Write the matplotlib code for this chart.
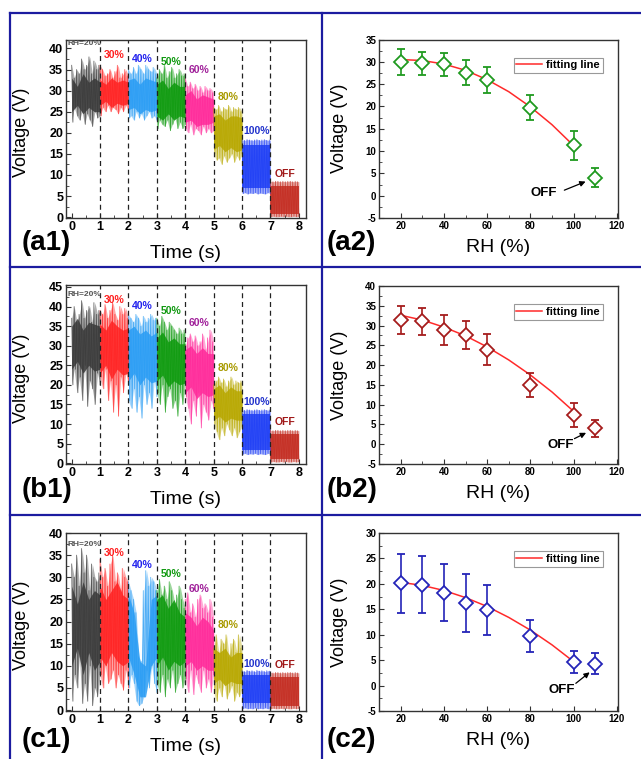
import numpy as np
import matplotlib
matplotlib.use('Agg')
import matplotlib.pyplot as plt
from matplotlib.lines import Line2D
from matplotlib.ticker import MultipleLocator

plt.rcParams['font.family'] = ['Liberation Sans', 'DejaVu Sans']
plt.rcParams['axes.unicode_minus'] = False

# ======================================================================================================================
#    Data
# ======================================================================================================================
SEG_LABELS = ['RH=20%', '30%', '40%', '50%', '60%', '80%', '100%', 'OFF']
SEG_COLORS = ['#3a3a3a', '#ff2222', '#2a9df4', '#0e9a0e', '#ff2a9a', '#b8a800', '#1f3ff5', '#c42d22']
LABEL_COLORS = ['#555555', '#ff2020', '#2222ee', '#119911', '#a0209a', '#a89a00', '#2233cc', '#a01818']

# (a1) outer spikes per segment
A1_HI = [[36, 33, 35, 34, 37.5, 35, 36, 38, 34, 37, 35, 36],
         [36, 35, 33.5, 34, 35, 33, 34.5, 36, 33, 34, 35, 33.5],
         [35, 34, 35.5, 34, 36, 35, 34, 36, 35, 34.5, 35.5, 34],
         [33, 35, 34, 36, 33, 34.5, 35.5, 33, 34, 35, 33.5, 34],
         [33, 31, 32, 30.5, 31.5, 30, 31, 29.5, 31, 30, 30.5, 29.5],
         [26, 25.5, 26.5, 25, 26, 25.5, 26.5, 25, 26, 25.5, 26, 25],
         [18.3, 18.2, 18.4, 18.3, 18.2, 18.3, 18.4, 18.2, 18.3, 18.4, 18.2, 18.3],
         [8.5, 8.4, 8.5, 8.5, 8.4, 8.5, 8.4, 8.5, 8.5, 8.4, 8.5, 8.4]]
A1_LO = [[22.5, 26, 24, 23, 25, 22, 24.5, 23, 21.5, 25, 23.5, 24],
         [24, 26, 25, 26.5, 25, 26, 25.5, 24.5, 26, 25, 26.5, 25],
         [23.5, 24, 23, 25, 23.5, 24.5, 23, 24, 25, 23.5, 24, 23],
         [21, 23, 22, 21.5, 23, 20.5, 22, 23.5, 21, 22.5, 21, 22],
         [21, 20, 22, 19.5, 21, 20.5, 19.5, 21.5, 20, 21, 20, 20.5],
         [15, 13.5, 14, 12.5, 14.5, 13, 14, 15, 13, 14.5, 13.5, 15],
         [5.6, 5.8, 5.5, 5.7, 5.6, 5.8, 5.5, 5.7, 5.6, 5.5, 5.8, 5.6],
         [0.1, 0.2, 0.1, 0.1, 0.2, 0.1, 0.2, 0.1, 0.1, 0.2, 0.1, 0.2]]
A1_CORE_HI = [[33, 31, 34, 32, 33, 32], [32.5, 31.5, 33, 32, 32.5, 32], [32.5, 33, 31.5, 33, 32.5, 32],
              [31.5, 32.5, 30.5, 32, 31, 31], [29, 30, 28, 29, 28.5, 28], [24, 24.5, 23, 24, 24, 23.5],
              [17, 17, 17, 17, 17, 17], [7.5, 7.5, 7.5, 7.5, 7.5, 7.5]]
A1_CORE_LO = [[25, 26.5, 24.5, 26, 25, 25], [26.5, 27.5, 26, 27, 26.5, 27], [25.5, 26, 24.5, 25.5, 25, 25.5],
              [24, 23, 24.5, 23, 24, 23.5], [22.5, 23, 21.5, 22, 22, 22.5], [16, 17, 15.5, 16.5, 15.5, 16],
              [7, 7, 7, 7, 7, 7], [0.8, 0.8, 0.8, 0.8, 0.8, 0.8]]

# (b1)
B1_HI = [[37, 40, 36, 38, 41.5, 37, 39, 40, 36, 41, 38, 39],
         [39, 38, 40.5, 37, 39, 41, 38, 36.5, 40, 38, 39.5, 37],
         [38, 37, 36, 38, 37, 35, 37.5, 36, 37, 38, 36.5, 37],
         [37, 35, 37.5, 36, 34, 36, 35, 34, 33, 34.5, 33, 34],
         [30, 32, 33, 31, 32.5, 30, 31, 33, 29, 32, 34, 31],
         [20, 21, 22, 20.5, 21.5, 19.5, 21, 22, 20, 21, 20.5, 21],
         [13.6, 13.5, 13.7, 13.6, 13.5, 13.6, 13.7, 13.5, 13.6, 13.7, 13.5, 13.6],
         [8.4, 8.3, 8.4, 8.4, 8.3, 8.4, 8.3, 8.4, 8.4, 8.3, 8.4, 8.3]]
B1_LO = [[20, 24, 18, 22, 16, 25, 14.5, 21, 19, 15, 23, 20],
         [22, 19, 24, 16, 21, 13, 20, 12, 22, 18, 23, 20],
         [16, 14, 19, 13, 17, 11.5, 20, 15, 18, 14, 21, 17],
         [18, 15, 20, 13, 17, 19, 14, 16, 12, 18, 15, 20],
         [17, 14, 10, 16, 12, 18, 9, 15, 13, 11, 16, 14],
         [10, 8, 6, 9, 7, 10, 8.5, 7, 9, 6.5, 8, 10],
         [2.3, 2.5, 2.2, 2.4, 2.3, 2.5, 2.2, 2.4, 2.3, 2.2, 2.5, 2.3],
         [0.3, 0.4, 0.3, 0.3, 0.4, 0.3, 0.4, 0.3, 0.3, 0.4, 0.3, 0.4]]
B1_CORE_HI = [[35, 37, 34, 36, 35.5, 35], [35.5, 34, 36.5, 35, 34, 34.5], [34, 35, 33, 34, 32.5, 33.5],
              [32, 33.5, 31, 32, 30.5, 30.5], [29, 30, 28, 29.5, 28, 28], [19, 20, 18, 19.5, 18.5, 18.5],
              [12.5, 12.5, 12.5, 12.5, 12.5, 12.5], [7.5, 7.5, 7.5, 7.5, 7.5, 7.5]]
B1_CORE_LO = [[24, 26, 23, 25, 23.5, 24], [23, 25, 21.5, 24, 22.5, 23], [21, 23, 20, 22, 20.5, 21],
              [21, 22.5, 19.5, 21, 20, 20.5], [18, 19.5, 16.5, 18, 17, 17.5], [11, 12, 10.5, 11.5, 11, 11],
              [3.5, 3.5, 3.5, 3.5, 3.5, 3.5], [1, 1, 1, 1, 1, 1]]

# (c1)
C1_HI = [[33, 30, 35, 28, 36.5, 31, 35, 27, 33, 30, 29, 31],
         [34, 30, 32, 28, 33, 35, 29, 31, 27, 32, 30, 29],
         [29, 27, 25, 22, 12, 11, 27, 31.5, 28, 30, 29, 27],
         [27, 29.5, 26, 28, 25, 29, 27, 24, 26, 28, 25, 23],
         [25, 26.5, 22, 24, 21, 25, 26, 23, 24, 22, 25, 21],
         [14, 17, 13, 16, 15, 17, 12, 15, 16, 13, 17, 14],
         [8.9, 8.7, 9.0, 8.8, 8.9, 8.7, 9.0, 8.8, 8.9, 8.7, 8.9, 8.8],
         [8.5, 8.4, 8.5, 8.5, 8.4, 8.5, 8.4, 8.5, 8.5, 8.4, 8.5, 8.4]]
C1_LO = [[2, 8, 5, 12, 1.5, 6, 2, 10, 1, 5, 3, 8],
         [8, 5, 10, 6, 7, 9, 5, 8, 6, 4.5, 9, 5],
         [5, 8, 6, 2, 1, 1.5, 3, 9, 5, 10, 6, 4],
         [6, 4, 8, 3, 7, 5, 9, 4, 6, 8, 5, 7],
         [7, 4, 9, 3.5, 8, 6, 4, 9, 5, 7, 4, 8],
         [4, 2, 5, 3, 6, 2.5, 4, 5.5, 2, 4, 3, 5],
         [0.3, 0.5, 0.3, 0.4, 0.3, 0.5, 0.3, 0.4, 0.3, 0.5, 0.3, 0.4],
         [0.3, 0.4, 0.3, 0.3, 0.4, 0.3, 0.4, 0.3, 0.3, 0.4, 0.3, 0.4]]
C1_CORE_HI = [[28, 24, 29, 25, 27, 26], [28, 25, 27, 29, 26, 25], [26, 22, 11, 10, 25, 26],
              [25, 26, 23, 25, 22, 21], [22, 21, 19, 21, 20, 18], [14, 13, 14, 12, 13, 13],
              [8, 8, 8, 8, 8, 8], [7.5, 7.5, 7.5, 7.5, 7.5, 7.5]]
C1_CORE_LO = [[10, 14, 8, 13, 9, 11], [12, 10, 13, 11, 10, 11], [12, 8, 3, 3, 10, 12],
              [10, 12, 9, 11, 10, 11], [10, 11, 9, 10, 9, 9], [6, 7, 5.5, 6.5, 6, 6],
              [1.5, 1.5, 1.5, 1.5, 1.5, 1.5], [1, 1, 1, 1, 1, 1]]

# label positions (y) over each segment
A1_LABEL_Y = [41.2, 38.4, 37.4, 36.8, 34.9, 28.4, 20.5, 10.3]
B1_LABEL_Y = [43.1, 41.6, 40.2, 38.75, 35.7, 24.4, 15.75, 10.4]
C1_LABEL_Y = [37.5, 35.5, 32.8, 30.7, 27.3, 19.2, 10.4, 10.2]

# (x2) panels: mean voltage vs RH
RH = [20, 30, 40, 50, 60, 80, 100, 110]
A2_V = [29.9, 29.7, 29.4, 27.6, 25.9, 19.7, 11.3, 4.0]
A2_ERR = [2.95, 2.6, 2.55, 2.8, 2.9, 2.85, 3.3, 2.15]
B2_V = [31.4, 31.1, 28.9, 27.5, 23.9, 15.0, 7.4, 4.0]
B2_ERR = [3.55, 3.4, 3.7, 3.55, 3.9, 3.0, 3.0, 2.1]
C2_V = [20.15, 19.8, 18.3, 16.3, 14.9, 9.7, 4.6, 4.3]
C2_ERR = [5.8, 5.6, 5.6, 5.7, 4.9, 3.15, 2.15, 2.1]

FIT_RH = [20, 30, 40, 50, 60, 70, 80, 90, 100]
A2_FIT = [30.5, 30.3, 29.5, 28.1, 26.0, 23.3, 19.9, 15.9, 11.2]
B2_FIT = [32.6, 31.4, 29.6, 27.4, 24.6, 21.3, 17.5, 13.2, 8.3]
C2_FIT = [20.3, 19.7, 18.7, 17.3, 15.55, 13.4, 10.9, 8.0, 4.7]


# ======================================================================================================================
#    Helpers
# ======================================================================================================================
W, H = 641, 759


def px_axes(fig, left, top, right, bottom):
    return fig.add_axes([left / W, 1 - bottom / H, (right - left) / W, (bottom - top) / H])


def style_axes(ax, size):
    for s in ax.spines.values():
        s.set_color('#333333')
        s.set_linewidth(1.0)
    ax.tick_params(which='both', direction='in', top=False, right=False, labelsize=size, pad=2,
                   color='#333333')
    ax.tick_params(which='major', length=3.5)
    ax.tick_params(which='minor', length=2)
    for lab in ax.get_xticklabels() + ax.get_yticklabels():
        lab.set_fontweight('bold')


def time_panel(ax, hi, lo, core_hi, core_lo, label_y, ymax, ystep):
    for i in range(8):
        n = len(hi[i])
        # dense zig-zag of the spikes
        xs = np.linspace(i, i + 1, 2 * n)
        ys = np.empty(2 * n)
        ys[0::2] = hi[i]
        ys[1::2] = lo[i]
        xe = np.linspace(i, i + 1, n)
        ax.fill_between(xe, lo[i], hi[i], color=SEG_COLORS[i], alpha=0.4, lw=0)
        ax.plot(xs, ys, color=SEG_COLORS[i], lw=0.6, alpha=0.75)
        xc = np.linspace(i, i + 1, len(core_hi[i]))
        ax.fill_between(xc, core_lo[i], core_hi[i], color=SEG_COLORS[i], alpha=0.85, lw=0)
        ax.text(i + 0.5 if i else 0.44, label_y[i], SEG_LABELS[i], color=LABEL_COLORS[i],
                fontsize=6 if i == 0 else 7.5, fontweight='bold', ha='center', va='center')
    for xv in range(1, 8):
        ax.axvline(xv, color='#222222', lw=0.9, ls=(0, (4, 3)))
    ax.set_xlim(-0.2, 8.25)
    ax.set_ylim(-0.2, ymax)
    ax.xaxis.set_major_locator(MultipleLocator(1))
    ax.xaxis.set_minor_locator(MultipleLocator(0.5))
    ax.yaxis.set_major_locator(MultipleLocator(ystep))
    ax.yaxis.set_minor_locator(MultipleLocator(ystep / 2))
    style_axes(ax, 9)
    ax.set_xlabel('Time (s)', fontsize=14)
    ax.set_ylabel('Voltage (V)', fontsize=13)
    ax.xaxis.set_label_coords(0.5, -0.15)
    ax.yaxis.set_label_coords(-0.15, 0.48)


def rh_panel(ax, v, err, fit, color, ylim, off_text, off_tail, off_head):
    ax.plot(FIT_RH, fit, color='#ff2a2a', lw=1.1, label='fitting line', zorder=2)
    ax.errorbar(RH, v, yerr=err, fmt='D', mfc='white', mec=color, ecolor=color, ms=7.5, mew=1.3,
                elinewidth=1.2, capsize=3, capthick=1.2, zorder=3)
    ax.annotate('', xy=off_head, xytext=off_tail,
                arrowprops=dict(arrowstyle='-|>', color='black', lw=0.9, mutation_scale=8))
    ax.text(off_text[0], off_text[1], 'OFF', fontsize=9.5, fontweight='bold', ha='center', va='center')
    ax.set_xlim(10, 120.5)
    ax.set_ylim(*ylim)
    ax.xaxis.set_major_locator(MultipleLocator(20))
    ax.xaxis.set_minor_locator(MultipleLocator(10))
    ax.yaxis.set_major_locator(MultipleLocator(5))
    ax.yaxis.set_minor_locator(MultipleLocator(2.5))
    style_axes(ax, 7)
    leg = ax.legend(loc='upper right', bbox_to_anchor=(0.96, 0.93), fancybox=False, framealpha=1,
                    edgecolor='#999999', handlelength=2.3, borderpad=0.25, handletextpad=0.4,
                    prop=dict(size=8, weight='bold'))
    leg.get_frame().set_linewidth(0.8)
    ax.set_xlabel('RH (%)', fontsize=14)
    ax.set_ylabel('Voltage (V)', fontsize=13)
    ax.xaxis.set_label_coords(0.5, -0.12)
    ax.yaxis.set_label_coords(-0.13, 0.5)


# ======================================================================================================================
#    Figure
# ======================================================================================================================
fig = plt.figure(figsize=(W / 100, H / 100), dpi=100)

ax_a1 = px_axes(fig, 66, 40, 306, 218)
ax_a2 = px_axes(fig, 379, 39.5, 618, 218)
ax_b1 = px_axes(fig, 66, 285, 306, 464)
ax_b2 = px_axes(fig, 379, 286, 618, 464)
ax_c1 = px_axes(fig, 66, 533, 306, 711)
ax_c2 = px_axes(fig, 379, 533, 618, 711)

time_panel(ax_a1, A1_HI, A1_LO, A1_CORE_HI, A1_CORE_LO, A1_LABEL_Y, 42, 5)
time_panel(ax_b1, B1_HI, B1_LO, B1_CORE_HI, B1_CORE_LO, B1_LABEL_Y, 45.5, 5)
time_panel(ax_c1, C1_HI, C1_LO, C1_CORE_HI, C1_CORE_LO, C1_LABEL_Y, 40, 5)

rh_panel(ax_a2, A2_V, A2_ERR, A2_FIT, '#1f9a1f', (-5, 35), (86, 0.6), (94.5, 1.0), (106.7, 3.4))
rh_panel(ax_b2, B2_V, B2_ERR, B2_FIT, '#a51c1c', (-5, 40), (93.8, -0.2), (99.2, 1.1), (106.9, 3.2))
rh_panel(ax_c2, C2_V, C2_ERR, C2_FIT, '#2424b8', (-5, 30), (94.5, -0.9), (100, 0.1), (108.4, 2.95))

# panel tags
for txt, xp, yp in [('(a1)', 22, 243), ('(a2)', 327, 243), ('(b1)', 22, 490), ('(b2)', 327, 490),
                    ('(c1)', 22, 740), ('(c2)', 327, 740)]:
    fig.text(xp / W, 1 - yp / H, txt, fontsize=20, fontweight='bold', ha='left', va='center')

# navy frame lines
navy = '#1c1ca0'
for (x0, y0, x1, y1) in [(10, 13, W, 13), (10, 13, 10, H), (322, 13, 322, H),
                         (10, 267, W, 267), (10, 515, W, 515)]:
    fig.add_artist(Line2D([x0 / W, x1 / W], [1 - y0 / H, 1 - y1 / H], color=navy, lw=1.6))

fig.savefig('out.png', dpi=100)
